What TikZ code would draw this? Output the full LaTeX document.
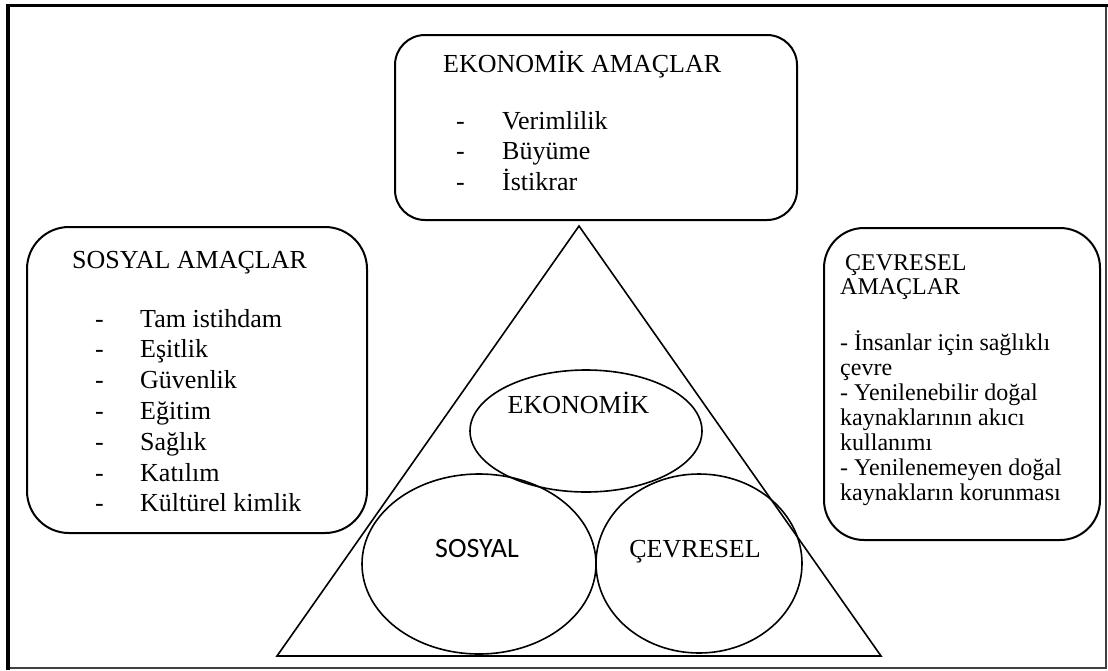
\documentclass[tikz,border=0pt]{standalone}
\usepackage{fontspec}
\setmainfont{Liberation Serif}
\newfontfamily\calib{Carlito}
\usetikzlibrary{shapes.geometric}
\begin{document}
\begin{tikzpicture}[x=1pt,y=-1pt,
  box/.style={draw, line width=2pt, inner sep=0pt, rectangle},
  oval/.style={draw, ellipse, line width=1.6pt, inner sep=0pt},
  txt/.style={inner sep=0pt, anchor=base west, font=\fontsize{26}{30}\selectfont},
  stxt/.style={inner sep=0pt, anchor=base west, font=\fontsize{24}{25}\selectfont},
  ctxt/.style={inner sep=0pt, anchor=base, font=\fontsize{26}{30}\selectfont}]
\useasboundingbox (0,0) rectangle (1108,670);
\coordinate (f1) at (8,668);
\coordinate (f2) at (8,5.5);
\coordinate (f3) at (1106,5.5);
\coordinate (f4) at (1106,668);
\draw[line width=2pt, black!75] (f3) -- (f4) -- (f1);
\draw[line width=3.5pt, line cap=rect] (f1) -- (f2) -- (f3);

% boxes
\node[box, rounded corners=30pt, minimum width=402pt, minimum height=185pt] (ekobox) at (596,127.5) {};
\node[box, rounded corners=42pt, minimum width=340pt, minimum height=306pt] (sosbox) at (197,380) {};
\node[box, rounded corners=40pt, minimum width=276pt, minimum height=312pt] (cevbox) at (962,384) {};

% top box text
\node[txt] (ekot) at (443,72) {EKONOMİK AMAÇLAR};
\foreach \y/\t [count=\i] in {129/Verimlilik, 159.5/Büyüme, 190/İstikrar}{
  \node[txt] (ekod\i) at (456,\y) {-};
  \node[txt] (ekoi\i) at (502,\y) {\t};
}

% left box text
\node[txt] (sost) at (72,268) {SOSYAL AMAÇLAR};
\foreach \y/\t [count=\i] in {327/Tam istihdam, 357.8/Eşitlik, 388.6/Güvenlik, 419.4/Eğitim, 450.2/Sağlık, 481/Katılım, 511.8/Kültürel kimlik}{
  \node[txt] (sosd\i) at (95,\y) {-};
  \node[txt] (sosi\i) at (140,\y) {\t};
}

% right box text
\node[stxt] (cevt1) at (845,270) {ÇEVRESEL};
\node[stxt] (cevt2) at (840,294.5) {AMAÇLAR};
\foreach \y/\t [count=\i] in {350.5/- İnsanlar için sağlıklı, 375.5/çevre, 400.5/- Yenilenebilir doğal, 425.5/kaynaklarının akıcı, 450.5/kullanımı, 475.5/- Yenilenemeyen doğal, 500.5/kaynakların korunması}{
  \node[stxt] (ceva\i) at (840,\y) {\t};
}

% triangle
\coordinate (apex) at (579,226);
\coordinate (bl) at (277,656);
\coordinate (br) at (881,656);
\draw[line width=1.6pt, line join=miter] (apex) -- (bl) -- (br) -- cycle;

% ellipses
\node[oval, minimum width=232pt, minimum height=122pt] (eko) at (586,431) {};
\node[oval, minimum width=234pt, minimum height=180pt] (sos) at (479,564) {};
\node[oval, minimum width=206pt, minimum height=179pt] (cev) at (699,563.5) {};

\node[ctxt] (ekol) at (578.5,413) {EKONOMİK};
\node[inner sep=0pt, anchor=base, font=\calib\fontsize{28}{30}\selectfont] (sosl) at (477,557) {SOSYAL};
\node[ctxt] (cevl) at (695,557) {ÇEVRESEL};
\end{tikzpicture}
\end{document}
